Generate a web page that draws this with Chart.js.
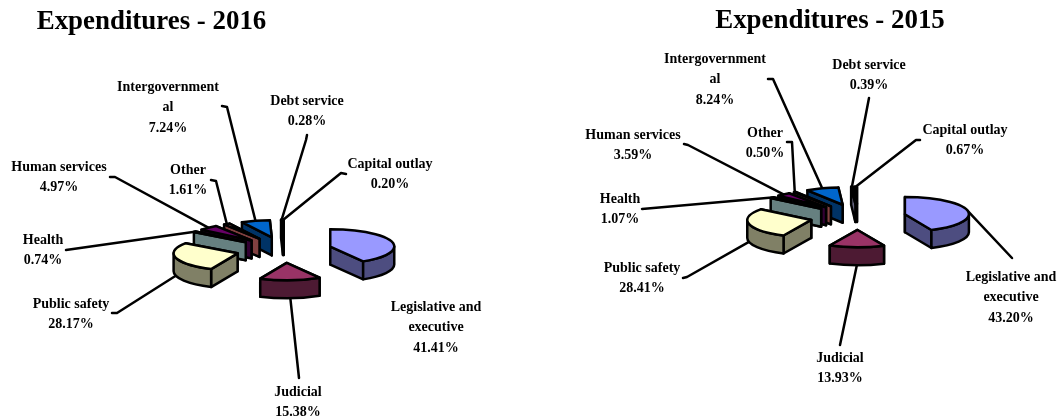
<!DOCTYPE html>
<html>
<head>
<meta charset="utf-8">
<script src="https://cdn.jsdelivr.net/npm/chart.js@4"></script>
<style>
  html, body { margin: 0; padding: 0; background: #fff; overflow: hidden; }
  canvas { position: absolute; top: 0; }
</style>
</head>
<body>
<canvas id="pie2016" width="530" height="419" style="left:0"></canvas>
<canvas id="pie2015" width="531" height="419" style="left:530px"></canvas>
<script>
var categories = ['Legislative and executive', 'Judicial', 'Public safety', 'Health', 'Human services', 'Other', 'Intergovernmental', 'Debt service', 'Capital outlay'];
var values2016 = [41.41, 15.38, 28.17, 0.74, 4.97, 1.61, 7.24, 0.28, 0.20];
var values2015 = [43.20, 13.93, 28.41, 1.07, 3.59, 0.50, 8.24, 0.39, 0.67];

var topColors = ['#9999FF', '#993366', '#FFFFCC', '#CCFFFF', '#660066', '#FF8080', '#0066CC', '#CCCCFF', '#000080'];
var sideColors = ['#4D4D80', '#4D1A33', '#808066', '#668080', '#330033', '#804040', '#003366', '#666680', '#000040'];

// how the category names wrap in the labels
var labelLines = [['Legislative and', 'executive'], ['Judicial'], ['Public safety'], ['Health'], ['Human services'], ['Other'], ['Intergovernment', 'al'], ['Debt service'], ['Capital outlay']];

// label layout, page pixels: centre x, first baseline y, leader start points (empty = no leader)
var layout2016 = [
  { x: 436, y: 311, leader: [] },
  { x: 298, y: 396, leader: [[299, 378]] },
  { x: 71, y: 308, leader: [[112, 313], [117, 313]] },
  { x: 43, y: 244, leader: [[66, 250]] },
  { x: 59, y: 171, leader: [[110, 177], [115, 177]] },
  { x: 188, y: 174, leader: [[211, 180], [216, 181]] },
  { x: 168, y: 91, leader: [[222, 106], [227, 107]] },
  { x: 307, y: 105, leader: [[307, 135], [306, 140]] },
  { x: 390, y: 168, leader: [[346, 174], [341, 173]] }
];
var layout2015 = [
  { x: 1011, y: 281, leader: [[1012, 258]] },
  { x: 840, y: 362, leader: [[840, 345]] },
  { x: 642, y: 272, leader: [[683, 278], [687, 277]] },
  { x: 620, y: 203, leader: [[642, 209]] },
  { x: 633, y: 139, leader: [[684, 144], [688, 145]] },
  { x: 765, y: 137, leader: [[787, 142], [792, 142]] },
  { x: 715, y: 63, leader: [[768, 79], [773, 79]] },
  { x: 869, y: 69, leader: [[869, 98]] },
  { x: 965, y: 134, leader: [[920, 140], [916, 140]] }
];

var FONT = '"Liberation Serif", "Times New Roman", serif';
var RADIUS = 64;
var EXPLODE = 48;
var FLATTEN = 0.27;
var DEPTH = 18;

// the flat pie is squashed and given a side wall, all angles come from the arc elements
var pie3d = {
  id: 'pie3d',
  beforeDatasetsDraw: function (chart, args, opts) {
    var ctx = chart.ctx;
    var arcs = chart.getDatasetMeta(0).data;
    var order = arcs.map(function (a, i) { return i; });
    order.sort(function (p, q) { return Math.sin(midAngle(arcs[p])) - Math.sin(midAngle(arcs[q])); });

    ctx.save();
    ctx.lineWidth = 2.5;
    ctx.lineJoin = 'round';
    ctx.lineCap = 'round';
    ctx.strokeStyle = '#000';

    arcs.forEach(function (arc, i) {
      var leader = opts.layout[i].leader;
      if (!leader.length) return;
      var mid = midAngle(arc);
      var endY = apexY(arc) + Math.sin(mid) * RADIUS * FLATTEN;
      if (Math.sin(mid) > 0) endY += DEPTH;
      ctx.beginPath();
      leader.forEach(function (p, n) {
        if (n == 0) ctx.moveTo(p[0] - opts.left, p[1]);
        else ctx.lineTo(p[0] - opts.left, p[1]);
      });
      ctx.lineTo(apexX(arc) + Math.cos(mid) * RADIUS, endY);
      ctx.stroke();
    });

    order.forEach(function (i) {
      var arc = arcs[i];
      var ax = apexX(arc), ay = apexY(arc);
      var walls = [arc.startAngle, arc.endAngle].sort(function (p, q) { return Math.sin(p) - Math.sin(q); });
      ctx.fillStyle = sideColors[i];
      walls.forEach(function (a) {
        var ex = ax + Math.cos(a) * RADIUS, ey = ay + Math.sin(a) * RADIUS * FLATTEN;
        ctx.beginPath();
        ctx.moveTo(ax, ay);
        ctx.lineTo(ex, ey);
        ctx.lineTo(ex, ey + DEPTH);
        ctx.lineTo(ax, ay + DEPTH);
        ctx.closePath();
        ctx.fill();
        ctx.stroke();
      });
      var from = Math.max(arc.startAngle, 0), to = Math.min(arc.endAngle, Math.PI);
      if (to > from) {
        ctx.beginPath();
        ctx.ellipse(ax, ay, RADIUS, RADIUS * FLATTEN, 0, from, to);
        ctx.ellipse(ax, ay + DEPTH, RADIUS, RADIUS * FLATTEN, 0, to, from, true);
        ctx.closePath();
        ctx.fill();
        ctx.stroke();
      }

      // top face by the library itself, moved out from the centre
      ctx.save();
      ctx.translate(ax - arc.x, ay);
      ctx.scale(1, FLATTEN);
      ctx.translate(0, -arc.y);
      arc.draw(ctx);
      ctx.restore();

      ctx.beginPath();
      ctx.moveTo(ax, ay);
      ctx.ellipse(ax, ay, RADIUS, RADIUS * FLATTEN, 0, arc.startAngle, arc.endAngle);
      ctx.closePath();
      ctx.stroke();
    });
    ctx.restore();
    return false;
  },
  afterDraw: function (chart, args, opts) {
    var ctx = chart.ctx;
    ctx.save();
    ctx.fillStyle = '#000';
    ctx.textAlign = 'center';
    ctx.textBaseline = 'alphabetic';
    ctx.font = 'bold 26.9px ' + FONT;
    ctx.fillText(opts.title, opts.titleX - opts.left, opts.titleY);
    ctx.font = 'bold 14px ' + FONT;
    labelLines.forEach(function (lines, i) {
      var pos = opts.layout[i];
      var all = lines.concat([opts.values[i].toFixed(2) + '%']);
      all.forEach(function (txt, n) {
        ctx.fillText(txt, pos.x - opts.left, pos.y + n * 20.3);
      });
    });
    ctx.restore();
  }
};

function midAngle(arc) { return (arc.startAngle + arc.endAngle) / 2; }
function apexX(arc) { return arc.x + Math.cos(midAngle(arc)) * EXPLODE; }
function apexY(arc) { return arc.y + Math.sin(midAngle(arc)) * EXPLODE * FLATTEN; }

function montaPizza(canvasId, values, layout, title, titleX, titleY, left, centreX, centreY) {
  var canvas = document.getElementById(canvasId);
  new Chart(canvas.getContext('2d'), {
    type: 'pie',
    data: {
      labels: categories,
      datasets: [{
        data: values,
        backgroundColor: topColors,
        borderWidth: 0,
        radius: RADIUS
      }]
    },
    options: {
      responsive: false,
      animation: false,
      events: [],
      layout: {
        padding: {
          left: 2 * (centreX - left) - canvas.width,
          top: 2 * centreY - canvas.height
        }
      },
      plugins: {
        legend: { display: false },
        tooltip: { enabled: false },
        pie3d: { layout: layout, values: values, title: title, titleX: titleX, titleY: titleY, left: left }
      }
    },
    plugins: [pie3d]
  });
}

montaPizza('pie2016', values2016, layout2016, 'Expenditures - 2016', 151.5, 29, 0, 284, 250);
montaPizza('pie2015', values2015, layout2015, 'Expenditures - 2015', 830, 28, 530, 858, 217);
</script>
</body>
</html>
